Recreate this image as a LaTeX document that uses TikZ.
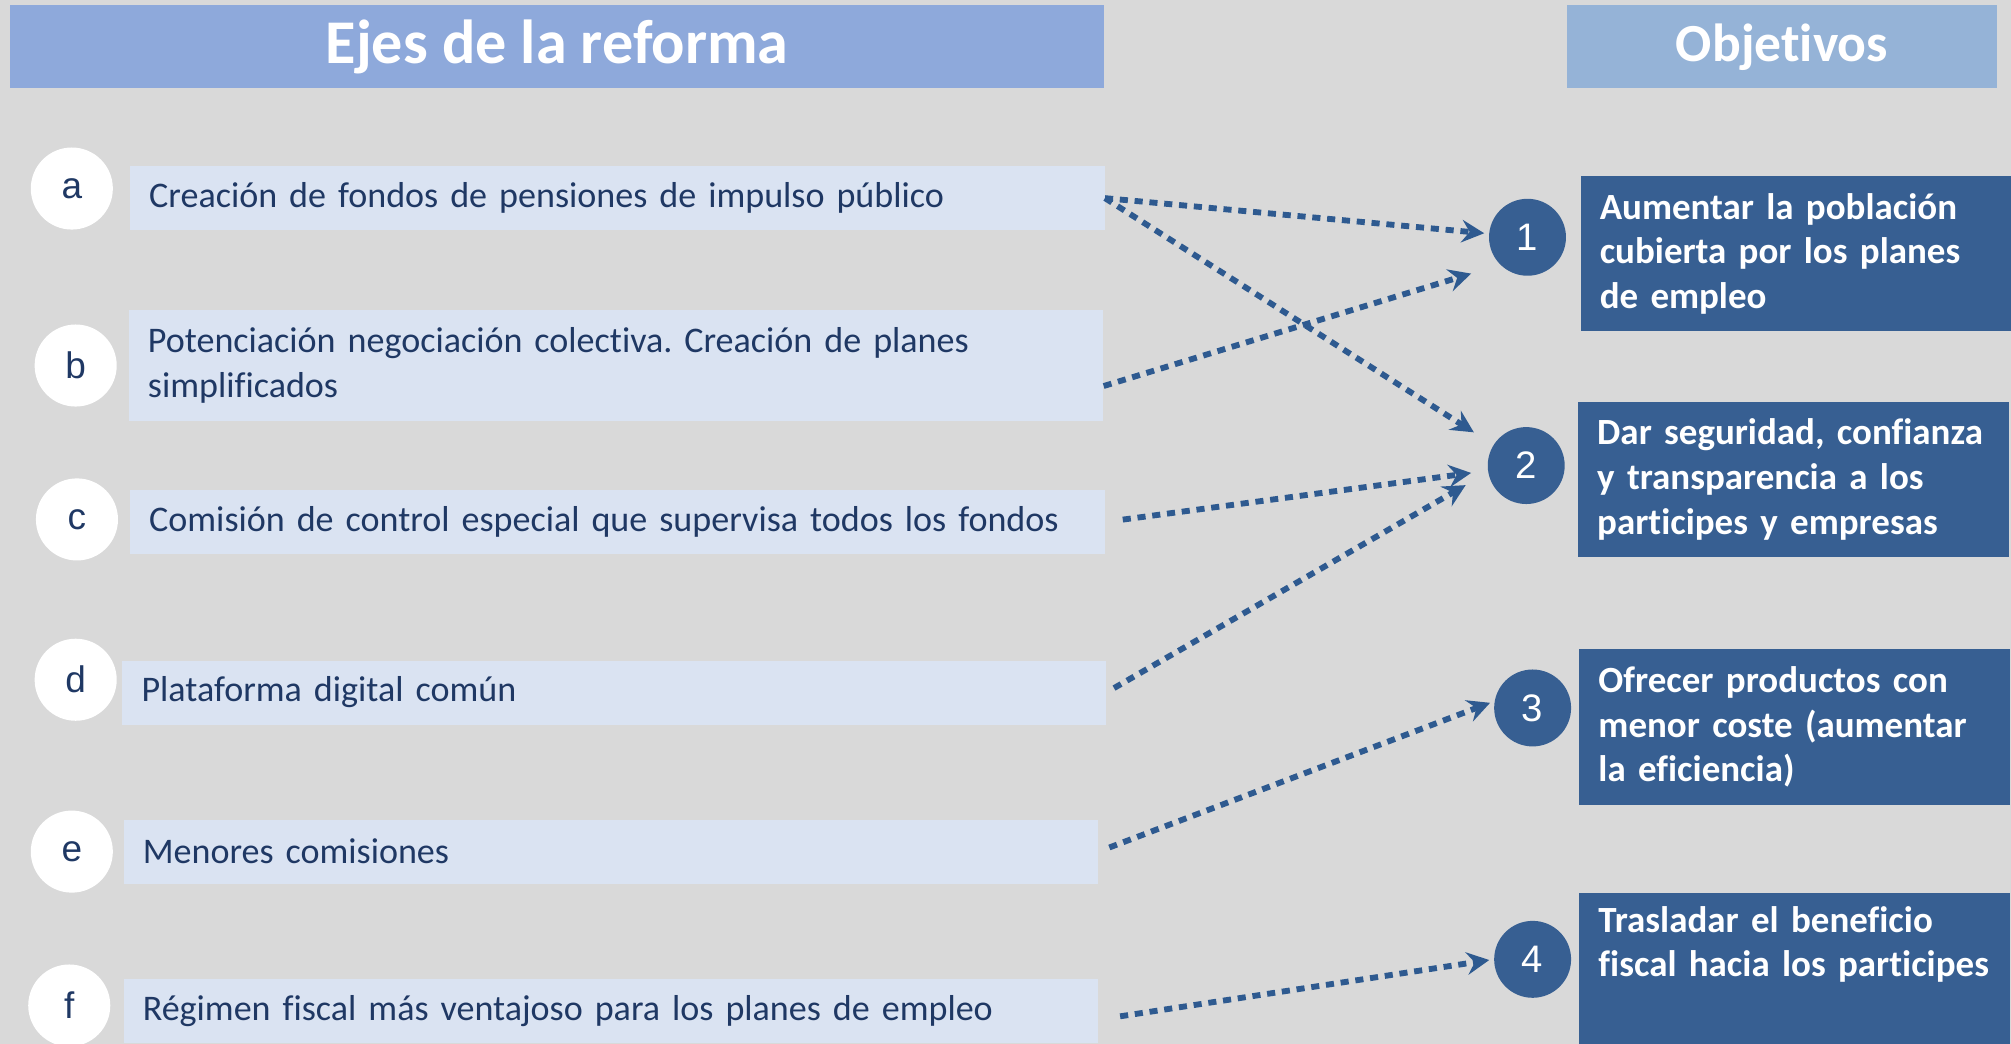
\documentclass[tikz,border=0pt]{standalone}
\usepackage{fontspec}
\usepackage{tikz}
\usepackage{xcolor}
\setmainfont{Carlito}[Ligatures=NoCommon]
\newfontfamily\arialfont{Liberation Sans}
\usetikzlibrary{arrows.meta}
\frenchspacing

\definecolor{bggray}{HTML}{D9D9D9}
\definecolor{titleblue}{HTML}{8EA9DB}
\definecolor{objblue}{HTML}{95B3D7}
\definecolor{boxblue}{HTML}{DAE3F2}
\definecolor{navy}{HTML}{375F92}
\definecolor{arrowblue}{HTML}{2E5A90}
\definecolor{textnavy}{HTML}{1F3864}

\begin{document}
\begin{tikzpicture}[x=0.02cm, y=-0.02cm,
  titlebar/.style={fill=titleblue, text=white, minimum height=1.3cm, inner sep=0pt,
    font=\bfseries\fontsize{27.6}{33}\selectfont},
  ejebox/.style={fill=boxblue, text=textnavy, anchor=west, inner xsep=0.3cm, inner ysep=0pt,
    text width=14.6cm, align=left, minimum height=1cm,
    font=\fontsize{16}{19.8}\selectfont},
  letra/.style={circle, fill=white, text=textnavy, minimum size=1.28cm, inner sep=0pt,
    font=\arialfont\fontsize{16.4}{18}\selectfont},
  numero/.style={circle, fill=navy, text=white, minimum size=1.2cm, inner sep=0pt,
    font=\arialfont\fontsize{17}{19}\selectfont},
  objbox/.style={fill=navy, text=white, anchor=north west, inner xsep=0.3cm, inner ysep=0pt,
    text width=6.12cm, align=left, minimum height=2.42cm,
    font=\bfseries\fontsize{16.4}{19.8}\selectfont},
  flecha/.style={draw=arrowblue, line width=2.6pt, dash pattern=on 3.6pt off 3pt,
    -{Stealth[length=10pt, width=10pt, inset=3.5pt]}}]

% fondo
\fill[bggray] (0,0) rectangle (1568,814);
\useasboundingbox (0,0) rectangle (1568,814);

% cabeceras
\node[titlebar, minimum width=17.06cm] (tEjes) at (434.5,36.5)
  {\raisebox{-0.06cm}{Ejes de la reforma}};
\node[titlebar, fill=objblue, minimum width=6.7cm, font=\bfseries\fontsize{23.8}{28}\selectfont]
  (tObj) at (1389.5,36.5) {\raisebox{-0.06cm}{Objetivos}};

% ejes
\node[ejebox] (ejeA) at (101,154.5) {\raisebox{-0.04cm}{Creación de fondos de pensiones de impulso público}};
\node[ejebox, minimum height=1.72cm] (ejeB) at (100,285)
  {Potenciación negociación colectiva. Creación de planes\\simplificados};
\node[ejebox] (ejeC) at (101,407) {\raisebox{-0.04cm}{Comisión de control especial que supervisa todos los fondos}};
\node[ejebox, text width=14.74cm] (ejeD) at (95,540) {\raisebox{-0.04cm}{Plataforma digital común}};
\node[ejebox] (ejeE) at (96,664) {Menores comisiones};
\node[ejebox] (ejeF) at (96,788) {\raisebox{-0.04cm}{Régimen fiscal más ventajoso para los planes de empleo}};

\node[letra] (letA) at (56,147) {a};
\node[letra] (letB) at (59,285) {b};
\node[letra] (letC) at (60,405) {c};
\node[letra] (letD) at (59,530) {d};
\node[letra] (letE) at (56,664) {e};
\node[letra] (letF) at (54,784) {f};

% objetivos
\node[numero] (num1) at (1191,185) {1};
\node[numero] (num2) at (1190,363) {2};
\node[numero] (num3) at (1195,552) {3};
\node[numero] (num4) at (1195,748) {4};

\node[objbox] (obj1) at (1232,137) {Aumentar la población\\cubierta por los planes\\de empleo};
\node[objbox] (obj2) at (1230,313) {Dar seguridad, confianza\\y transparencia a los\\participes y empresas};
\node[objbox] (obj3) at (1231,506) {Ofrecer productos con\\menor coste (aumentar\\la eficiencia)};
\node[objbox] (obj4) at (1231,696) {Trasladar el beneficio\\fiscal hacia los participes\\\strut};

% flechas
\draw[flecha, shorten >=2pt] (ejeA.east) -- (num1);
\draw[flecha, shorten >=0.36cm] (ejeA.east) -- (num2);
\draw[flecha, shorten >=0.47cm] ([yshift=-0.32cm]ejeB.east) -- (num1.south west);
\draw[flecha, shorten <=0.28cm, shorten >=0.26cm] (ejeC.east) -- (num2);
\draw[flecha, shorten <=0.14cm, shorten >=0.4cm] (ejeD.east) -- (num2.190);
\draw[flecha, shorten <=0.18cm, shorten >=2pt] (ejeE.east) -- (num3.170);
\draw[flecha, shorten <=0.34cm, shorten >=2pt] ([yshift=-0.14cm]ejeF.east) -- (num4.west);
\end{tikzpicture}
\end{document}
